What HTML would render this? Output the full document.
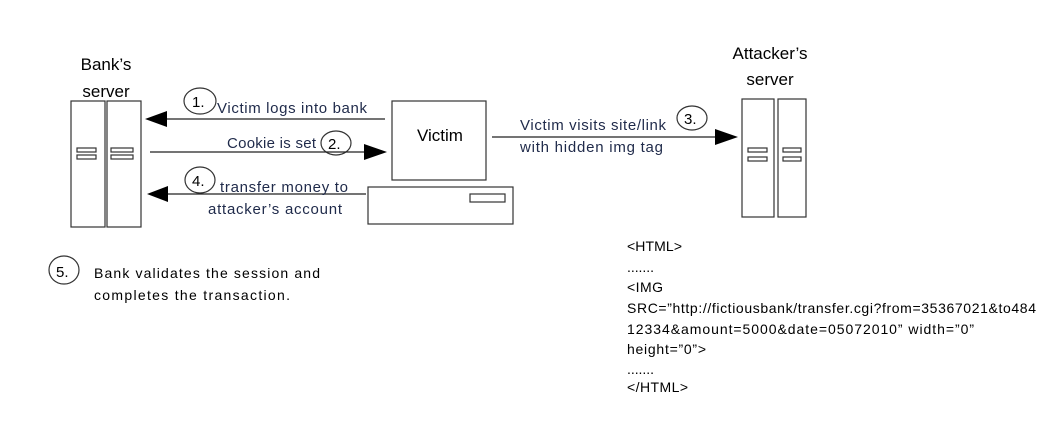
<!DOCTYPE html>
<html><head><meta charset="utf-8"><style>
html,body{margin:0;padding:0;background:#fff;width:1053px;height:423px;overflow:hidden}
svg text{font-family:"Liberation Sans",sans-serif}
</style></head><body>
<svg width="1053" height="423" viewBox="0 0 1053 423" xmlns="http://www.w3.org/2000/svg">
<g fill="#fff" stroke="#333" stroke-width="1.2">
<rect x="71" y="101" width="34" height="126"/>
<rect x="107" y="101" width="34" height="126"/>
<rect x="77" y="148" width="19" height="4"/><rect x="77" y="155" width="19" height="4"/>
<rect x="111" y="148" width="22" height="4"/><rect x="111" y="155" width="22" height="4"/>
<rect x="742" y="99" width="32" height="118"/>
<rect x="778" y="99" width="28" height="118"/>
<rect x="748" y="148" width="19" height="4"/><rect x="748" y="157" width="19" height="4"/>
<rect x="783" y="148" width="18" height="4"/><rect x="783" y="157" width="18" height="4"/>
<rect x="392" y="101" width="94" height="79"/>
<rect x="368" y="187" width="145" height="37"/>
<rect x="470" y="194" width="35" height="8"/>
<ellipse cx="200" cy="101" rx="16" ry="13"/>
<ellipse cx="336" cy="143" rx="15" ry="12"/>
<ellipse cx="200" cy="180" rx="15" ry="13"/>
<ellipse cx="692" cy="118" rx="15" ry="12"/>
<ellipse cx="64" cy="270" rx="15" ry="14"/>
</g>
<g stroke="#222" stroke-width="1.2">
<line x1="385" y1="119" x2="160" y2="119"/>
<line x1="150" y1="152" x2="375" y2="152"/>
<line x1="366" y1="194" x2="160" y2="194"/>
<line x1="492" y1="137" x2="725" y2="137"/>
</g>
<g fill="#000">
<polygon points="145,119 167,111 167,127"/>
<polygon points="387,152 364,144 364,160"/>
<polygon points="147,194 168,186 168,202"/>
<polygon points="738,137 715,129 715,145"/>
</g>
<g font-size="17" fill="#000" text-anchor="middle">
<text x="106" y="70">Bank’s</text>
<text x="106" y="97">server</text>
<text x="770" y="59">Attacker’s</text>
<text x="770" y="85">server</text>
<text x="440" y="141">Victim</text>
</g>
<g font-size="15" fill="#000">
<text x="192" y="107">1.</text><text x="328" y="149">2.</text><text x="192" y="186">4.</text><text x="684" y="124">3.</text><text x="56" y="277">5.</text>
</g>
<g font-size="15" fill="#1f2a4a">
<text x="217" y="113" textLength="150">Victim logs into bank</text>
<text x="227" y="148" textLength="89">Cookie is set</text>
<text x="220" y="192" textLength="128">transfer money to</text>
<text x="208" y="214" textLength="134">attacker’s account</text>
<text x="520" y="130" textLength="146">Victim visits site/link</text>
<text x="520" y="152" textLength="143">with hidden img tag</text>
</g>
<g font-size="14" fill="#000">
<text x="94" y="278" textLength="226">Bank validates the session and</text>
<text x="94" y="300" textLength="196">completes the transaction.</text>
<text x="627" y="251" textLength="55">&lt;HTML&gt;</text>
<text x="627" y="272" textLength="27">.......</text>
<text x="627" y="292" textLength="36">&lt;IMG</text>
<text x="627" y="313" textLength="409">SRC=”http://fictiousbank/transfer.cgi?from=35367021&amp;to484</text>
<text x="627" y="334" textLength="347">12334&amp;amount=5000&amp;date=05072010”   width=”0”</text>
<text x="627" y="354" textLength="79">height=”0”&gt;</text>
<text x="627" y="374" textLength="27">.......</text>
<text x="627" y="392" textLength="61">&lt;/HTML&gt;</text>
</g>
</svg>
</body></html>
